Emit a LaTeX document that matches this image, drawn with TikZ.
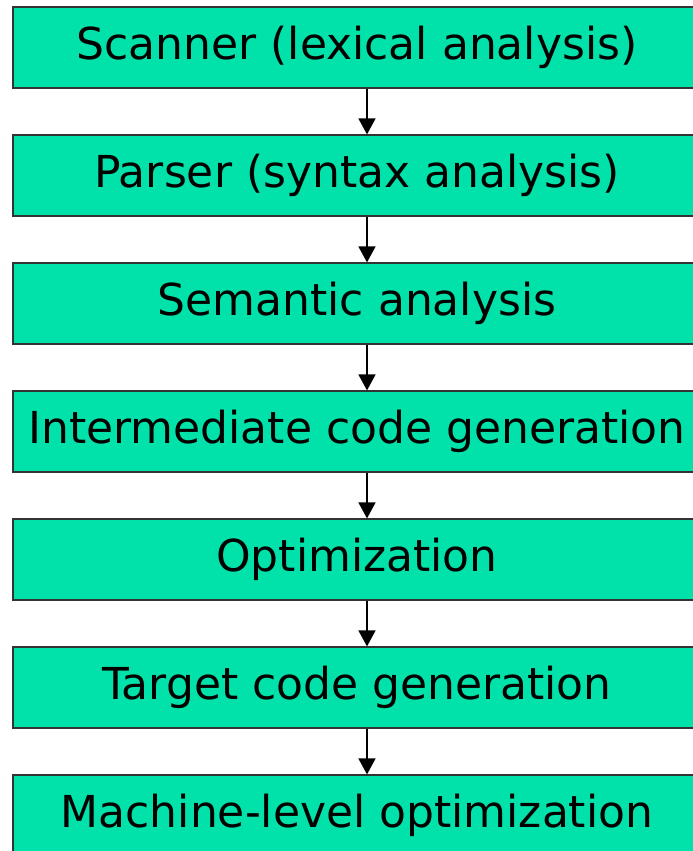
\documentclass[tikz,border=0pt]{standalone}
\usepackage{fontspec}
\setmainfont{DejaVu Sans}
\usetikzlibrary{arrows.meta}
\definecolor{phasegreen}{RGB}{0,226,170}
\tikzset{
	phase/.style={draw=black!80, line width=1.2pt, fill=phasegreen, minimum width=688pt, minimum height=81pt, inner sep=0pt, font=\fontsize{44}{50}\selectfont},
	flow/.style={line width=1.5pt, -{Triangle[width=17pt,length=16pt]}}
}

\begin{document}
\begin{tikzpicture}[x=1pt,y=-1pt]
	\useasboundingbox (0,0) rectangle (693,851);
	\node[phase] (scan) at (357,47.5) {Scanner (lexical analysis)};
	\node[phase] (parse) at (357,175.5) {Parser (syntax analysis)};
	\node[phase] (sem) at (357,303.5) {Semantic analysis};
	\node[phase] (inter) at (357,431.5) {Intermediate code generation};
	\node[phase] (opt) at (357,559.5) {Optimization};
	\node[phase] (target) at (357,687.5) {Target code generation};
	\node[phase] (mach) at (357,815.5) {Machine-level optimization};

	\draw[flow] ([xshift=10pt]scan.south) -- ([xshift=10pt]parse.north);
	\draw[flow] ([xshift=10pt]parse.south) -- ([xshift=10pt]sem.north);
	\draw[flow] ([xshift=10pt]sem.south) -- ([xshift=10pt]inter.north);
	\draw[flow] ([xshift=10pt]inter.south) -- ([xshift=10pt]opt.north);
	\draw[flow] ([xshift=10pt]opt.south) -- ([xshift=10pt]target.north);
	\draw[flow] ([xshift=10pt]target.south) -- ([xshift=10pt]mach.north);
\end{tikzpicture}
\end{document}
